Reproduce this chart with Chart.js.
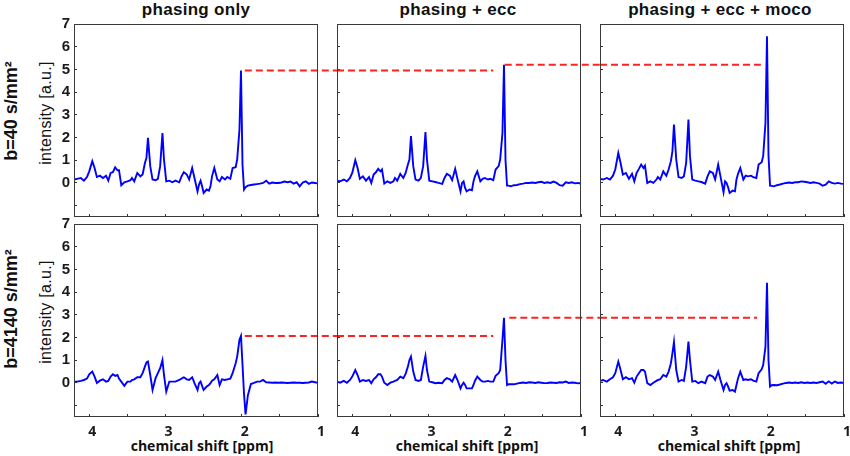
<!DOCTYPE html>
<html>
<head>
<meta charset="utf-8">
<title>MRS spectra</title>
<script src="https://cdn.jsdelivr.net/npm/chart.js@4.4.1/dist/chart.umd.min.js"></script>
<style>
  html, body { margin: 0; padding: 0; background: #fff; }
  #fig { position: relative; width: 850px; height: 456px; overflow: hidden; font-family: "Liberation Sans", Arial, sans-serif; color: #111; }
  #fig canvas { position: absolute; }
  .t { position: absolute; white-space: nowrap; line-height: 1; transform: translate(-50%, -50%); }
  .rot { transform: translate(-50%, -50%) rotate(-90deg); }
  .col { font-weight: bold; font-size: 17px; letter-spacing: 0.3px; top: 9px; }
  .row { font-weight: bold; font-size: 18px; left: 10.5px; }
  .ylab { font-size: 16px; letter-spacing: 0.3px; left: 46px; }
  .xlab { font-family: "Open Sans", sans-serif; font-weight: bold; font-size: 14px; top: 446px; }
</style>
</head>
<body>
<div id="fig">
  <div class="t col" style="left:196px">phasing only</div>
  <div class="t col" style="left:458px">phasing + ecc</div>
  <div class="t col" style="left:720px">phasing + ecc + moco</div>
  <div class="t rot row" style="top:111px">b=40 s/mm²</div>
  <div class="t rot row" style="top:309px">b=4140 s/mm²</div>
  <div class="t rot ylab" style="top:113px">intensity [a.u.]</div>
  <div class="t rot ylab" style="top:312px">intensity [a.u.]</div>
  <div class="t xlab" style="left:202px">chemical shift [ppm]</div>
  <div class="t xlab" style="left:467px">chemical shift [ppm]</div>
  <div class="t xlab" style="left:729px">chemical shift [ppm]</div>
</div>
<script>
// chemical shift grid (ppm), shared by all six spectra
const ppm = [4.20, 4.16, 4.11, 4.07, 4.03, 4.00, 3.96, 3.93, 3.90, 3.86,
  3.82, 3.78, 3.75, 3.72, 3.69, 3.66, 3.63, 3.61, 3.58, 3.54,
  3.50, 3.46, 3.44, 3.41, 3.37, 3.33, 3.30, 3.27, 3.25, 3.23,
  3.20, 3.17, 3.13, 3.10, 3.07, 3.04, 3.02, 2.99, 2.95, 2.91,
  2.87, 2.82, 2.79, 2.76, 2.72, 2.69, 2.65, 2.62, 2.58, 2.56,
  2.54, 2.52, 2.50, 2.46, 2.43, 2.41, 2.39, 2.36, 2.32, 2.29,
  2.26, 2.22, 2.19, 2.15, 2.12, 2.08, 2.06, 2.03, 2.01, 1.99,
  1.97, 1.95, 1.92, 1.88, 1.84, 1.80, 1.76, 1.72, 1.68, 1.64,
  1.60, 1.56, 1.52, 1.48, 1.44, 1.40, 1.36, 1.32, 1.28, 1.24,
  1.20, 1.16, 1.12, 1.08, 1.04, 1.00];

// b = 40 s/mm²
const b40Phasing = [0.15, 0.18, 0.22, 0.10, 0.26, 0.51, 0.96, 0.66, 0.26, 0.32,
  0.22, 0.32, 0.10, 0.44, 0.47, 0.69, 0.56, 0.56, -0.10, 0.03,
  0.07, 0.12, 0.22, 0.07, 0.44, 0.29, 0.37, 0.88, 1.10, 1.99,
  0.74, 0.15, 0.12, 0.18, 0.74, 2.20, 1.03, 0.07, 0.10, 0.03,
  0.10, 0.03, 0.29, 0.47, 0.37, 0.15, 0.66, 0.22, -0.37, -0.07,
  0.10, -0.15, -0.44, -0.29, -0.34, -0.15, 0.29, 0.66, 0.15, 0.07,
  0.26, 0.15, 0.26, 0.18, 0.66, 0.69, 1.03, 2.35, 4.95, 0.80,
  -0.29, -0.19, -0.12, -0.09, -0.07, -0.05, -0.03, 0.00, 0.10, -0.03,
  0.02, 0.00, 0.00, 0.02, 0.06, 0.03, 0.06, -0.03, 0.03, -0.15,
  0.02, 0.07, -0.04, 0.02, 0.00, -0.03];
const b40Ecc = [0.10, 0.07, 0.15, 0.07, 0.22, 0.44, 1.00, 0.66, 0.18, 0.29,
  0.10, 0.26, 0.00, 0.37, 0.47, 0.62, 0.51, 0.59, -0.03, 0.07,
  0.00, 0.07, 0.22, 0.10, 0.40, 0.22, 0.44, 0.81, 1.03, 2.06,
  0.74, 0.15, 0.10, 0.22, 0.74, 2.24, 1.03, 0.10, 0.07, 0.04,
  0.00, -0.04, 0.22, 0.40, 0.32, 0.12, 0.62, 0.18, -0.37, 0.00,
  0.07, -0.22, -0.37, -0.29, -0.32, 0.07, 0.30, 0.51, 0.07, 0.18,
  0.22, 0.15, 0.18, 0.12, 0.59, 0.74, 1.03, 2.20, 5.20, 1.00,
  -0.12, -0.12, -0.15, -0.10, -0.09, -0.05, -0.03, 0.00, 0.00, 0.02,
  0.00, 0.03, 0.05, 0.00, 0.03, 0.00, 0.06, 0.00, -0.10, -0.12,
  0.03, 0.00, 0.03, -0.02, 0.00, -0.04];
const b40Moco = [0.18, 0.15, 0.22, 0.15, 0.32, 0.59, 1.32, 0.88, 0.37, 0.44,
  0.18, 0.40, 0.07, 0.44, 0.62, 0.81, 0.66, 0.76, 0.00, 0.07,
  0.00, 0.15, 0.26, 0.15, 0.51, 0.32, 0.59, 0.96, 1.40, 2.57,
  1.03, 0.26, 0.22, 0.29, 0.88, 2.79, 1.18, 0.15, 0.10, 0.07,
  0.04, -0.03, 0.29, 0.51, 0.44, 0.15, 0.81, 0.29, -0.41, 0.07,
  0.00, -0.19, -0.44, -0.34, -0.37, 0.15, 0.40, 0.66, 0.15, 0.32,
  0.29, 0.32, 0.26, 0.22, 0.81, 0.91, 1.18, 2.65, 6.46, 1.20,
  -0.12, -0.13, -0.15, -0.10, -0.07, -0.03, 0.00, 0.02, 0.00, 0.03,
  0.03, 0.07, 0.05, 0.03, 0.00, 0.03, 0.00, -0.03, -0.12, -0.08,
  0.07, 0.00, -0.03, 0.00, -0.03, -0.04];

// b = 4140 s/mm²
const b4140Phasing = [0.06, 0.06, 0.09, 0.13, 0.19, 0.38, 0.50, 0.28, 0.00, 0.10,
  0.16, 0.06, 0.09, 0.28, 0.38, 0.31, 0.35, 0.19, 0.06, -0.13,
  0.06, 0.06, 0.13, 0.16, 0.25, 0.25, 0.43, 0.72, 0.90, 0.94,
  0.35, -0.31, 0.21, 0.43, 0.65, 1.01, 0.35, -0.38, 0.06, 0.06,
  0.06, 0.13, 0.19, 0.25, 0.16, 0.13, 0.25, -0.01, -0.31, -0.01,
  0.06, -0.13, -0.31, -0.16, -0.09, -0.01, 0.10, 0.16, 0.35, -0.09,
  0.16, 0.13, 0.16, 0.19, 0.43, 0.87, 1.16, 1.90, 2.07, 0.80,
  -0.50, -1.39, -0.55, -0.05, 0.00, 0.06, 0.06, 0.13, 0.03, 0.02,
  0.01, 0.02, 0.01, 0.02, 0.01, 0.00, 0.01, 0.02, 0.01, 0.01,
  0.00, 0.01, 0.02, 0.06, 0.03, 0.00];
const b4140Ecc = [0.06, 0.01, 0.09, 0.01, 0.13, 0.28, 0.57, 0.35, 0.06, 0.13,
  0.09, 0.13, -0.01, 0.16, 0.25, 0.38, 0.38, 0.28, 0.01, -0.09,
  0.01, 0.06, 0.09, 0.13, 0.28, 0.21, 0.40, 0.72, 1.01, 1.16,
  0.50, 0.13, 0.09, 0.13, 0.72, 1.19, 0.57, 0.06, 0.03, -0.01,
  0.01, -0.01, 0.13, 0.21, 0.16, 0.06, 0.35, 0.13, -0.24, -0.09,
  0.01, -0.09, -0.24, -0.24, -0.24, -0.09, 0.10, 0.28, 0.13, 0.06,
  0.06, 0.09, 0.06, 0.06, 0.31, 0.43, 0.57, 1.90, 2.87, 1.00,
  -0.09, -0.06, -0.06, -0.06, -0.03, 0.00, 0.02, 0.00, 0.03, 0.02,
  0.00, 0.03, 0.01, -0.01, 0.00, 0.02, 0.01, 0.00, 0.03, 0.02,
  0.06, 0.00, 0.02, 0.01, -0.02, 0.00];
const b4140Moco = [0.09, 0.13, 0.06, 0.16, 0.25, 0.43, 0.94, 0.57, 0.16, 0.25,
  0.16, 0.21, 0.01, 0.28, 0.43, 0.57, 0.57, 0.50, -0.01, -0.09,
  0.01, 0.09, 0.13, 0.16, 0.35, 0.28, 0.50, 0.87, 1.31, 1.80,
  0.57, 0.06, 0.13, 0.09, 0.72, 1.82, 1.01, 0.06, 0.09, -0.01,
  0.06, -0.01, 0.28, 0.35, 0.28, 0.13, 0.50, 0.13, -0.31, -0.09,
  -0.01, -0.16, -0.34, -0.31, -0.38, -0.09, 0.20, 0.50, 0.13, 0.16,
  0.13, 0.16, 0.10, 0.06, 0.43, 0.60, 0.79, 1.60, 4.41, 1.00,
  -0.16, -0.10, -0.09, -0.10, -0.07, -0.03, 0.00, 0.02, 0.00, 0.02,
  0.00, 0.03, 0.00, 0.02, 0.00, 0.02, 0.00, 0.03, 0.06, -0.04,
  0.07, -0.03, 0.06, 0.00, 0.02, 0.00];

// red dashed reference lines (NAA peak height), one per neighbouring pair of panels
const dashLevels = [[4.95, 5.20], [2.07, 2.87]];
const dashFrom = [[1.96, 2.00], [1.96, 1.94]];  // ppm where the dash leaves the left panel peak
const dashTo = [[2.15, 2.09], [2.15, 2.14]];    // ppm where it stops in the right panel

const spectra = [[b40Phasing, b40Ecc, b40Moco], [b4140Phasing, b4140Ecc, b4140Moco]];

// axis ranges
const xMin = 1, xMax = 4.2, yMin = -1.5, yMax = 7;

// layout of the grid of panels (page pixels)
const colLeft = [74, 337, 600];
const rowTop = [24, 224];
const areaW = 244, areaH = 193;
const padL = 74, padT = 24, padR = 30, padB = 40;
const gapPpm = (colLeft[1] - colLeft[0] - areaW) / (areaW / (xMax - xMin));

const frame = {
  id: 'frame',
  afterDraw(chart) {
    const {ctx, chartArea: a} = chart;
    ctx.save();
    ctx.strokeStyle = '#3a3a3a';
    ctx.lineWidth = 1;
    ctx.strokeRect(a.left + 0.5, a.top + 0.5, a.right - a.left - 1, a.bottom - a.top - 1);
    ctx.restore();
  }
};

const dashStyle = {
  borderColor: '#ff2222', borderWidth: 2, borderDash: [7, 4],
  pointRadius: 0, clip: false, tension: 0
};

const fig = document.getElementById('fig');

for (let r = 0; r < 2; r++) {
  for (let c = 0; c < 3; c++) {
    const cv = document.createElement('canvas');
    cv.width = padL + areaW + padR;
    cv.height = padT + areaH + padB;
    cv.style.left = (colLeft[c] - padL) + 'px';
    cv.style.top = (rowTop[r] - padT) + 'px';
    fig.appendChild(cv);

    const datasets = [];
    if (c < 2) {
      const lv = dashLevels[r][c];
      datasets.push({ ...dashStyle, data: [{x: dashFrom[r][c], y: lv}, {x: xMin - gapPpm, y: lv}] });
    }
    if (c > 0) {
      const lv = dashLevels[r][c - 1];
      datasets.push({ ...dashStyle, data: [{x: xMax, y: lv}, {x: dashTo[r][c - 1], y: lv}] });
    }
    const vals = spectra[r][c];
    datasets.push({
      data: ppm.map((x, i) => ({x: x, y: vals[i]})),
      borderColor: '#0000ff', borderWidth: 1.9, pointRadius: 0, tension: 0
    });

    const showX = r === 1, showY = c === 0;

    new Chart(cv, {
      type: 'line',
      data: { datasets: datasets },
      plugins: [frame],
      options: {
        responsive: false,
        animation: false,
        events: [],
        layout: { padding: { left: 0, top: padT, right: padR, bottom: 0 } },
        plugins: { legend: { display: false }, tooltip: { enabled: false } },
        scales: {
          x: {
            type: 'linear', reverse: true, min: xMin, max: xMax,
            afterFit: s => { s.height = padB; },
            border: { display: false },
            grid: { drawOnChartArea: false, drawTicks: true, tickLength: -3, color: '#333' },
            ticks: {
              stepSize: 0.5, includeBounds: false, autoSkip: false, maxRotation: 0,
              padding: 10, labelOffset: 3, color: '#1a1a1a',
              font: { family: '"Open Sans", sans-serif', size: 14, weight: 'bold' },
              callback: v => (showX && Number.isInteger(v)) ? String(v) : ''
            }
          },
          y: {
            min: yMin, max: yMax,
            afterFit: s => { s.width = padL; },
            border: { display: false },
            grid: { drawOnChartArea: false, drawTicks: true, tickLength: -3, color: '#333' },
            ticks: {
              stepSize: 1, includeBounds: false, autoSkip: false,
              padding: 7, color: '#1a1a1a',
              font: { family: '"Liberation Sans", Arial, sans-serif', size: 15, weight: 'bold' },
              callback: v => (showY && v >= 0) ? String(v) : ''
            }
          }
        }
      }
    });
  }
}
</script>
</body>
</html>
